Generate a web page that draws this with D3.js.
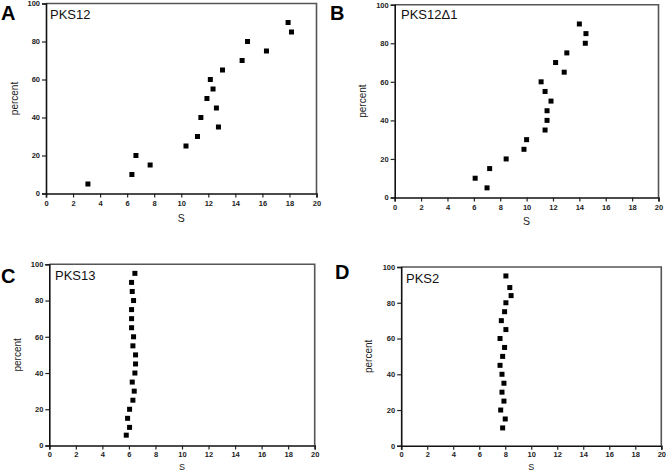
<!DOCTYPE html>
<html><head><meta charset="utf-8">
<script src="https://cdn.jsdelivr.net/npm/d3@7"></script>
<style>
html,body{margin:0;padding:0;background:#fff;}
svg{display:block;font-family:Arial,"Liberation Sans",Helvetica,sans-serif;}
</style>
</head><body>
<svg id="chart" width="666" height="472"></svg>
<script>
// ---- data ----
const xTicks = [0, 2, 4, 6, 8, 10, 12, 14, 16, 18, 20];
const yTicks = [0, 20, 40, 60, 80, 100];
const xTitle = "S";
const yTitle = "percent";

const panelLetters = ["A", "B", "C", "D"];
const panelNames = ["PKS12", "PKS12Δ1", "PKS13", "PKS2"];

const pks12S   = [3.1, 6.35, 6.65, 7.7, 10.35, 11.2, 11.45, 11.9, 12.15, 12.35, 12.6, 12.75, 13.05, 14.5, 14.9, 16.3, 17.9, 18.15];
const pks12Pct = [5, 10, 20, 15, 25, 30, 40, 50, 60, 55, 45, 35, 65, 70, 80, 75, 90, 85];

const pks12d1S   = [6.1, 7.0, 7.2, 8.45, 9.8, 10.0, 11.1, 11.4, 11.4, 11.55, 11.55, 11.85, 12.2, 12.85, 13.05, 14.0, 14.45, 14.5];
const pks12d1Pct = [10, 5, 15, 20, 25, 30, 60, 55, 35, 45, 40, 50, 70, 65, 75, 90, 80, 85];

const pks13S   = [6.45, 6.2, 6.25, 6.35, 6.2, 6.2, 6.2, 6.35, 6.3, 6.5, 6.5, 6.45, 6.25, 6.4, 6.3, 6.05, 5.9, 6.05, 5.8];
const pks13Pct = [95, 90, 85, 80, 75, 70, 65, 60, 55, 50, 45, 40, 35, 30, 25, 20, 15, 10, 5.7];

const pks2S   = [8.05, 8.35, 8.45, 8.05, 7.95, 7.7, 8.05, 7.6, 7.95, 7.8, 7.6, 7.75, 7.9, 7.75, 7.9, 7.65, 8.0, 7.8];
const pks2Pct = [95, 88.5, 84, 80, 75, 70, 65, 60, 55, 50, 45, 40, 35, 30, 25, 20, 15, 10];

const seriesS   = [pks12S, pks12d1S, pks13S, pks2S];
const seriesPct = [pks12Pct, pks12d1Pct, pks13Pct, pks2Pct];

// ---- layout (pixel boxes of each plot area) ----
const boxes = [
  {x0: 46,    x1: 316.5, y0: 3.5,   y1: 193.5, letterX: 1,   letterY: 20,  nameX: 50,  nameY: 19,  pctX: 18,  sY: 222, sF: 10.5, pad: 3},
  {x0: 394.7, x1: 658.5, y0: 4.7,   y1: 197.5, letterX: 330, letterY: 20,  nameX: 401, nameY: 19,  pctX: 366, sY: 225, sF: 10.5, pad: 3},
  {x0: 49.3,  x1: 314.7, y0: 264.3, y1: 445.5, letterX: 1,   letterY: 283, nameX: 55,  nameY: 280, pctX: 21,  sY: 469.5, sF: 9, pad: 2},
  {x0: 401.2, x1: 661.3, y0: 267,   y1: 445.8, letterX: 335, letterY: 279, nameX: 406, nameY: 283, pctX: 372, sY: 469.5, sF: 9, pad: 2}
];

const svg = d3.select("#chart");

boxes.forEach((b, i) => {
  const x = d3.scaleLinear().domain([0, 20]).range([b.x0, b.x1]);
  const y = d3.scaleLinear().domain([0, 100]).range([b.y1, b.y0]);
  const g = svg.append("g");

  // top & right frame (grey)
  g.append("path")
    .attr("d", `M${b.x0},${b.y0}H${b.x1}V${b.y1}`)
    .attr("fill", "none").attr("stroke", "#555").attr("stroke-width", 1.6);

  // x axis
  const xa = g.append("g").attr("transform", `translate(0,${b.y1})`)
    .call(d3.axisBottom(x).tickValues(xTicks).tickSize(4).tickPadding(b.pad).tickFormat(d3.format("d")));
  // y axis
  const ya = g.append("g").attr("transform", `translate(${b.x0},0)`)
    .call(d3.axisLeft(y).tickValues(yTicks).tickSize(4).tickPadding(2).tickFormat(d3.format("d")));
  [xa, ya].forEach(a => {
    a.select(".domain").attr("stroke", "#111").attr("stroke-width", 1.6);
    a.selectAll(".tick line").attr("stroke", "#222").attr("stroke-width", 1.2);
    a.selectAll(".tick text").attr("font-size", 7.5).attr("font-weight", "bold")
      .attr("fill", "#222").attr("font-family", "Arial, 'Liberation Sans', sans-serif");
  });

  // points
  const pts = seriesS[i].map((s, k) => ({s, p: seriesPct[i][k]}));
  const m = 5;
  g.selectAll("rect.pt").data(pts).enter().append("rect")
    .attr("class", "pt")
    .attr("x", d => x(d.s) - m / 2).attr("y", d => y(d.p) - m / 2)
    .attr("width", m).attr("height", m).attr("fill", "#000");

  // panel letter
  g.append("text").attr("x", b.letterX).attr("y", b.letterY)
    .attr("font-size", 20).attr("font-weight", "bold").text(panelLetters[i]);
  // series name
  g.append("text").attr("x", b.nameX).attr("y", b.nameY)
    .attr("font-size", 13).attr("fill", "#111").text(panelNames[i]);
  // axis titles
  g.append("text").attr("x", (b.x0 + b.x1) / 2).attr("y", b.sY)
    .attr("text-anchor", "middle").attr("font-size", b.sF).attr("fill", "#222").text(xTitle);
  g.append("text")
    .attr("transform", `translate(${b.pctX},${(b.y0 + b.y1) / 2}) rotate(-90)`)
    .attr("text-anchor", "middle").attr("font-size", 10).attr("fill", "#222").text(yTitle);
});
</script>
</body></html>
